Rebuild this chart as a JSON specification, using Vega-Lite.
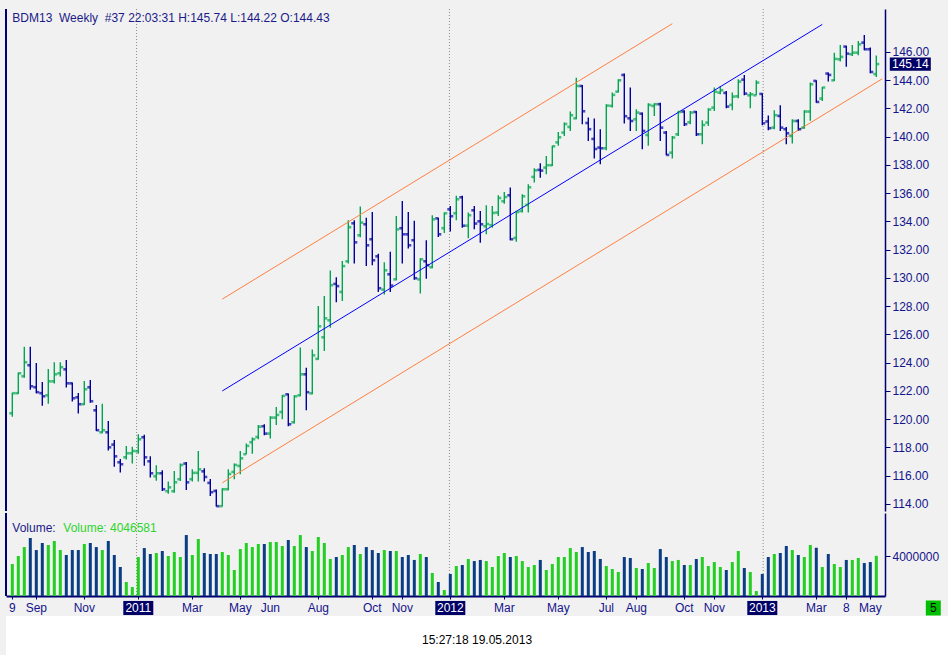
{
  "$schema": "https://vega.github.io/schema/vega-lite/v6.json",
  "background": "#f1f1f1",
  "padding": {"left": 5, "top": 8, "right": 0, "bottom": 0},
  "spacing": 0,
  "datasets": {
    "bars": [
      {"date": "2010-08-09", "o": 120.42, "h": 121.88, "l": 120.18, "c": 121.84, "v": 3220000},
      {"date": "2010-08-16", "o": 121.84, "h": 123.30, "l": 121.79, "c": 123.25, "v": 4030000},
      {"date": "2010-08-23", "o": 123.04, "h": 125.12, "l": 122.94, "c": 124.03, "v": 4930000},
      {"date": "2010-08-30", "o": 123.82, "h": 125.12, "l": 122.09, "c": 122.33, "v": 5840000},
      {"date": "2010-09-06", "o": 122.26, "h": 123.98, "l": 121.84, "c": 121.91, "v": 4630000},
      {"date": "2010-09-13", "o": 121.84, "h": 122.64, "l": 120.96, "c": 121.62, "v": 5340000},
      {"date": "2010-09-20", "o": 121.69, "h": 123.56, "l": 121.10, "c": 122.68, "v": 5140000},
      {"date": "2010-09-27", "o": 122.68, "h": 124.03, "l": 122.52, "c": 123.18, "v": 5540000},
      {"date": "2010-10-04", "o": 123.25, "h": 124.03, "l": 123.02, "c": 123.68, "v": 4630000},
      {"date": "2010-10-11", "o": 123.53, "h": 124.19, "l": 122.24, "c": 122.54, "v": 4130000},
      {"date": "2010-10-18", "o": 122.54, "h": 122.59, "l": 121.25, "c": 121.48, "v": 4630000},
      {"date": "2010-10-25", "o": 121.55, "h": 121.86, "l": 120.40, "c": 121.06, "v": 4630000},
      {"date": "2010-11-01", "o": 121.06, "h": 122.71, "l": 121.01, "c": 122.12, "v": 5240000},
      {"date": "2010-11-08", "o": 122.26, "h": 122.78, "l": 121.17, "c": 121.27, "v": 5340000},
      {"date": "2010-11-15", "o": 120.63, "h": 121.01, "l": 119.17, "c": 119.22, "v": 4930000},
      {"date": "2010-11-22", "o": 119.07, "h": 121.10, "l": 119.00, "c": 119.22, "v": 4630000},
      {"date": "2010-11-29", "o": 119.07, "h": 119.88, "l": 117.79, "c": 118.01, "v": 5540000},
      {"date": "2010-12-06", "o": 118.20, "h": 118.53, "l": 116.64, "c": 117.37, "v": 4130000},
      {"date": "2010-12-13", "o": 116.95, "h": 117.19, "l": 116.22, "c": 116.81, "v": 2920000},
      {"date": "2010-12-20", "o": 117.30, "h": 118.11, "l": 117.14, "c": 117.59, "v": 1410000},
      {"date": "2010-12-27", "o": 117.59, "h": 118.04, "l": 116.86, "c": 117.75, "v": 910000},
      {"date": "2011-01-03", "o": 117.73, "h": 118.93, "l": 117.56, "c": 118.58, "v": 3930000},
      {"date": "2011-01-10", "o": 118.72, "h": 118.89, "l": 116.71, "c": 117.30, "v": 4830000},
      {"date": "2011-01-17", "o": 117.02, "h": 117.37, "l": 115.87, "c": 116.17, "v": 4230000},
      {"date": "2011-01-24", "o": 115.96, "h": 116.74, "l": 115.65, "c": 116.17, "v": 4330000},
      {"date": "2011-01-31", "o": 116.17, "h": 116.38, "l": 114.92, "c": 115.04, "v": 4530000},
      {"date": "2011-02-07", "o": 114.90, "h": 115.58, "l": 114.73, "c": 115.18, "v": 4030000},
      {"date": "2011-02-14", "o": 114.90, "h": 116.34, "l": 114.80, "c": 115.53, "v": 4430000},
      {"date": "2011-02-21", "o": 115.75, "h": 116.86, "l": 115.63, "c": 116.76, "v": 3930000},
      {"date": "2011-02-28", "o": 116.86, "h": 116.97, "l": 114.99, "c": 115.53, "v": 6140000},
      {"date": "2011-03-07", "o": 115.75, "h": 116.45, "l": 115.58, "c": 116.20, "v": 4130000},
      {"date": "2011-03-14", "o": 116.20, "h": 117.75, "l": 115.58, "c": 116.45, "v": 5740000},
      {"date": "2011-03-21", "o": 116.31, "h": 116.53, "l": 115.58, "c": 115.91, "v": 4330000},
      {"date": "2011-03-28", "o": 115.49, "h": 115.77, "l": 114.57, "c": 114.83, "v": 4230000},
      {"date": "2011-04-04", "o": 114.92, "h": 115.02, "l": 113.81, "c": 113.84, "v": 4230000},
      {"date": "2011-04-11", "o": 113.84, "h": 115.11, "l": 113.81, "c": 115.04, "v": 4430000},
      {"date": "2011-04-18", "o": 115.04, "h": 116.45, "l": 114.97, "c": 116.12, "v": 4130000},
      {"date": "2011-04-25", "o": 116.27, "h": 116.86, "l": 115.75, "c": 116.76, "v": 2620000},
      {"date": "2011-05-02", "o": 116.69, "h": 117.75, "l": 116.10, "c": 117.23, "v": 4730000},
      {"date": "2011-05-09", "o": 117.52, "h": 118.27, "l": 117.52, "c": 118.11, "v": 5340000},
      {"date": "2011-05-16", "o": 118.37, "h": 118.70, "l": 117.56, "c": 118.58, "v": 4930000},
      {"date": "2011-05-23", "o": 118.74, "h": 119.59, "l": 118.58, "c": 119.47, "v": 5240000},
      {"date": "2011-05-30", "o": 119.50, "h": 119.64, "l": 118.86, "c": 118.98, "v": 5240000},
      {"date": "2011-06-06", "o": 118.98, "h": 120.21, "l": 118.63, "c": 120.11, "v": 5440000},
      {"date": "2011-06-13", "o": 120.11, "h": 120.87, "l": 119.59, "c": 120.30, "v": 5440000},
      {"date": "2011-06-20", "o": 120.51, "h": 121.72, "l": 120.00, "c": 121.65, "v": 5040000},
      {"date": "2011-06-27", "o": 121.76, "h": 121.81, "l": 119.50, "c": 119.64, "v": 5640000},
      {"date": "2011-07-04", "o": 119.78, "h": 121.69, "l": 119.69, "c": 121.62, "v": 5040000},
      {"date": "2011-07-11", "o": 121.69, "h": 125.07, "l": 121.62, "c": 123.18, "v": 6140000},
      {"date": "2011-07-18", "o": 123.18, "h": 123.65, "l": 120.63, "c": 121.91, "v": 4930000},
      {"date": "2011-07-25", "o": 121.83, "h": 124.93, "l": 121.76, "c": 124.52, "v": 4530000},
      {"date": "2011-08-01", "o": 124.27, "h": 128.02, "l": 124.20, "c": 126.58, "v": 5940000},
      {"date": "2011-08-08", "o": 125.80, "h": 128.72, "l": 124.83, "c": 127.14, "v": 5340000},
      {"date": "2011-08-15", "o": 127.00, "h": 130.52, "l": 126.48, "c": 129.49, "v": 3730000},
      {"date": "2011-08-22", "o": 129.58, "h": 130.05, "l": 128.28, "c": 129.42, "v": 3930000},
      {"date": "2011-08-29", "o": 129.01, "h": 131.20, "l": 128.37, "c": 130.84, "v": 4130000},
      {"date": "2011-09-05", "o": 131.18, "h": 134.08, "l": 131.02, "c": 133.59, "v": 4930000},
      {"date": "2011-09-12", "o": 133.87, "h": 134.08, "l": 131.02, "c": 132.52, "v": 5140000},
      {"date": "2011-09-19", "o": 133.02, "h": 135.05, "l": 132.88, "c": 133.92, "v": 4230000},
      {"date": "2011-09-26", "o": 133.80, "h": 134.27, "l": 130.85, "c": 132.31, "v": 4930000},
      {"date": "2011-10-03", "o": 132.74, "h": 134.67, "l": 130.90, "c": 131.25, "v": 4630000},
      {"date": "2011-10-10", "o": 131.53, "h": 131.72, "l": 129.01, "c": 129.27, "v": 4330000},
      {"date": "2011-10-17", "o": 129.17, "h": 131.11, "l": 128.82, "c": 130.54, "v": 4630000},
      {"date": "2011-10-24", "o": 130.26, "h": 131.86, "l": 129.01, "c": 129.46, "v": 4530000},
      {"date": "2011-10-31", "o": 129.90, "h": 134.39, "l": 129.83, "c": 133.44, "v": 4530000},
      {"date": "2011-11-07", "o": 133.52, "h": 135.45, "l": 131.02, "c": 133.09, "v": 3930000},
      {"date": "2011-11-14", "o": 133.09, "h": 134.67, "l": 132.08, "c": 132.31, "v": 4130000},
      {"date": "2011-11-21", "o": 132.67, "h": 134.04, "l": 129.88, "c": 129.98, "v": 3630000},
      {"date": "2011-11-28", "o": 129.90, "h": 131.39, "l": 128.89, "c": 131.32, "v": 4230000},
      {"date": "2011-12-05", "o": 131.18, "h": 132.67, "l": 129.95, "c": 130.90, "v": 3930000},
      {"date": "2011-12-12", "o": 130.76, "h": 134.44, "l": 130.68, "c": 134.15, "v": 2320000},
      {"date": "2011-12-19", "o": 134.22, "h": 134.27, "l": 132.90, "c": 133.09, "v": 1410000},
      {"date": "2011-12-26", "o": 133.52, "h": 134.63, "l": 133.19, "c": 134.58, "v": 600000},
      {"date": "2012-01-02", "o": 134.86, "h": 135.10, "l": 133.28, "c": 134.37, "v": 2220000},
      {"date": "2012-01-09", "o": 134.58, "h": 135.81, "l": 134.08, "c": 135.57, "v": 3020000},
      {"date": "2012-01-16", "o": 135.71, "h": 135.81, "l": 133.56, "c": 133.70, "v": 3120000},
      {"date": "2012-01-23", "o": 133.70, "h": 134.63, "l": 132.81, "c": 134.44, "v": 3730000},
      {"date": "2012-01-30", "o": 134.79, "h": 135.10, "l": 133.45, "c": 133.85, "v": 3520000},
      {"date": "2012-02-06", "o": 134.01, "h": 134.74, "l": 132.50, "c": 133.80, "v": 3630000},
      {"date": "2012-02-13", "o": 133.66, "h": 135.15, "l": 133.09, "c": 133.82, "v": 3520000},
      {"date": "2012-02-20", "o": 133.73, "h": 135.10, "l": 133.56, "c": 134.60, "v": 2920000},
      {"date": "2012-02-27", "o": 134.63, "h": 135.85, "l": 134.39, "c": 135.66, "v": 4030000},
      {"date": "2012-03-05", "o": 135.43, "h": 136.09, "l": 135.26, "c": 135.73, "v": 4330000},
      {"date": "2012-03-12", "o": 135.85, "h": 136.40, "l": 132.67, "c": 132.74, "v": 3930000},
      {"date": "2012-03-19", "o": 132.83, "h": 134.74, "l": 132.57, "c": 134.67, "v": 4030000},
      {"date": "2012-03-26", "o": 134.74, "h": 135.92, "l": 134.63, "c": 135.78, "v": 3520000},
      {"date": "2012-04-02", "o": 135.17, "h": 136.63, "l": 134.63, "c": 136.42, "v": 2920000},
      {"date": "2012-04-09", "o": 137.15, "h": 137.76, "l": 136.75, "c": 137.62, "v": 3120000},
      {"date": "2012-04-16", "o": 137.65, "h": 138.12, "l": 137.10, "c": 137.60, "v": 3630000},
      {"date": "2012-04-23", "o": 137.81, "h": 138.64, "l": 137.34, "c": 137.98, "v": 2620000},
      {"date": "2012-04-30", "o": 137.98, "h": 139.35, "l": 137.93, "c": 139.32, "v": 3220000},
      {"date": "2012-05-07", "o": 139.60, "h": 140.34, "l": 139.35, "c": 139.96, "v": 3930000},
      {"date": "2012-05-14", "o": 140.29, "h": 141.00, "l": 140.05, "c": 140.90, "v": 3930000},
      {"date": "2012-05-21", "o": 140.69, "h": 141.78, "l": 140.41, "c": 141.52, "v": 4830000},
      {"date": "2012-05-28", "o": 141.30, "h": 144.18, "l": 141.23, "c": 143.59, "v": 4430000},
      {"date": "2012-06-04", "o": 143.59, "h": 143.66, "l": 140.88, "c": 141.80, "v": 4930000},
      {"date": "2012-06-11", "o": 140.97, "h": 141.35, "l": 139.70, "c": 140.53, "v": 4430000},
      {"date": "2012-06-18", "o": 139.84, "h": 141.28, "l": 138.45, "c": 139.13, "v": 4530000},
      {"date": "2012-06-25", "o": 139.23, "h": 140.53, "l": 138.05, "c": 139.18, "v": 3730000},
      {"date": "2012-07-02", "o": 139.18, "h": 142.30, "l": 139.04, "c": 142.20, "v": 3020000},
      {"date": "2012-07-09", "o": 142.18, "h": 143.12, "l": 142.06, "c": 142.96, "v": 2720000},
      {"date": "2012-07-16", "o": 143.19, "h": 144.07, "l": 143.12, "c": 143.99, "v": 2420000},
      {"date": "2012-07-23", "o": 144.37, "h": 144.47, "l": 140.93, "c": 141.45, "v": 3930000},
      {"date": "2012-07-30", "o": 141.30, "h": 143.48, "l": 140.41, "c": 141.11, "v": 3830000},
      {"date": "2012-08-06", "o": 141.23, "h": 141.94, "l": 140.41, "c": 141.71, "v": 2820000},
      {"date": "2012-08-13", "o": 141.63, "h": 141.71, "l": 139.11, "c": 140.41, "v": 2720000},
      {"date": "2012-08-20", "o": 140.12, "h": 142.36, "l": 139.35, "c": 142.25, "v": 3320000},
      {"date": "2012-08-27", "o": 142.18, "h": 142.36, "l": 141.47, "c": 142.30, "v": 2820000},
      {"date": "2012-09-03", "o": 142.30, "h": 142.41, "l": 139.70, "c": 140.64, "v": 4730000},
      {"date": "2012-09-10", "o": 140.29, "h": 140.41, "l": 138.68, "c": 138.71, "v": 3930000},
      {"date": "2012-09-17", "o": 138.87, "h": 140.05, "l": 138.45, "c": 139.94, "v": 3520000},
      {"date": "2012-09-24", "o": 140.17, "h": 141.82, "l": 140.05, "c": 141.75, "v": 3630000},
      {"date": "2012-10-01", "o": 141.78, "h": 141.87, "l": 140.76, "c": 140.88, "v": 3120000},
      {"date": "2012-10-08", "o": 141.02, "h": 141.82, "l": 140.88, "c": 141.71, "v": 3120000},
      {"date": "2012-10-15", "o": 141.75, "h": 141.82, "l": 140.05, "c": 140.17, "v": 3730000},
      {"date": "2012-10-22", "o": 140.17, "h": 141.16, "l": 139.46, "c": 140.83, "v": 3930000},
      {"date": "2012-10-29", "o": 141.00, "h": 142.01, "l": 140.76, "c": 141.92, "v": 3020000},
      {"date": "2012-11-05", "o": 142.06, "h": 143.48, "l": 141.82, "c": 143.19, "v": 3420000},
      {"date": "2012-11-12", "o": 143.12, "h": 143.59, "l": 143.00, "c": 143.29, "v": 2920000},
      {"date": "2012-11-19", "o": 143.10, "h": 143.24, "l": 142.01, "c": 142.13, "v": 2620000},
      {"date": "2012-11-26", "o": 142.25, "h": 143.12, "l": 141.87, "c": 142.84, "v": 3420000},
      {"date": "2012-12-03", "o": 142.86, "h": 144.07, "l": 142.72, "c": 143.90, "v": 4530000},
      {"date": "2012-12-10", "o": 144.04, "h": 144.37, "l": 142.93, "c": 143.05, "v": 2820000},
      {"date": "2012-12-17", "o": 142.93, "h": 143.17, "l": 142.01, "c": 143.00, "v": 2420000},
      {"date": "2012-12-24", "o": 142.93, "h": 143.99, "l": 142.93, "c": 143.83, "v": 500000},
      {"date": "2012-12-31", "o": 143.03, "h": 143.07, "l": 140.81, "c": 140.95, "v": 2220000},
      {"date": "2013-01-07", "o": 141.08, "h": 141.50, "l": 140.45, "c": 140.60, "v": 3930000},
      {"date": "2013-01-14", "o": 140.64, "h": 141.87, "l": 140.53, "c": 141.52, "v": 4230000},
      {"date": "2013-01-21", "o": 141.47, "h": 142.23, "l": 140.41, "c": 140.64, "v": 4330000},
      {"date": "2013-01-28", "o": 140.53, "h": 140.69, "l": 139.46, "c": 140.24, "v": 5040000},
      {"date": "2013-02-04", "o": 140.05, "h": 141.23, "l": 139.51, "c": 141.11, "v": 4630000},
      {"date": "2013-02-11", "o": 141.11, "h": 141.23, "l": 140.41, "c": 140.53, "v": 4130000},
      {"date": "2013-02-18", "o": 140.64, "h": 141.87, "l": 140.57, "c": 141.78, "v": 3930000},
      {"date": "2013-02-25", "o": 141.78, "h": 143.83, "l": 141.12, "c": 143.71, "v": 5140000},
      {"date": "2013-03-04", "o": 143.95, "h": 143.99, "l": 142.41, "c": 142.46, "v": 4860000},
      {"date": "2013-03-11", "o": 142.70, "h": 143.52, "l": 142.53, "c": 143.48, "v": 2920000},
      {"date": "2013-03-18", "o": 144.47, "h": 144.54, "l": 143.90, "c": 144.37, "v": 4230000},
      {"date": "2013-03-25", "o": 143.99, "h": 145.95, "l": 143.95, "c": 145.51, "v": 3220000},
      {"date": "2013-04-01", "o": 145.48, "h": 146.50, "l": 145.32, "c": 145.65, "v": 2920000},
      {"date": "2013-04-08", "o": 146.38, "h": 146.43, "l": 144.96, "c": 145.88, "v": 3630000},
      {"date": "2013-04-15", "o": 145.84, "h": 146.50, "l": 145.72, "c": 145.95, "v": 3630000},
      {"date": "2013-04-22", "o": 145.95, "h": 146.78, "l": 145.76, "c": 146.54, "v": 3830000},
      {"date": "2013-04-29", "o": 146.66, "h": 147.20, "l": 146.12, "c": 146.19, "v": 3320000},
      {"date": "2013-05-06", "o": 146.19, "h": 146.31, "l": 144.49, "c": 144.58, "v": 3420000},
      {"date": "2013-05-13", "o": 144.43, "h": 145.74, "l": 144.22, "c": 145.14, "v": 4046581}
    ],
    "channel": [
      {"line": "upper", "date": "2011-04-11", "price": 128.5},
      {"line": "upper", "date": "2012-09-17", "price": 148.0},
      {"line": "mid", "date": "2011-04-11", "price": 122.0},
      {"line": "mid", "date": "2013-03-11", "price": 147.95},
      {"line": "lower", "date": "2011-04-11", "price": 115.5},
      {"line": "lower", "date": "2013-05-20", "price": 144.1}
    ],
    "years": [
      {"date": "2011-01-01"},
      {"date": "2012-01-01"},
      {"date": "2013-01-01"}
    ],
    "ticks": [
      {"date": "2010-08-09", "label": "9", "kind": "month"},
      {"date": "2010-09-06", "label": "Sep", "kind": "month"},
      {"date": "2010-11-01", "label": "Nov", "kind": "month"},
      {"date": "2011-01-03", "label": "2011", "kind": "year"},
      {"date": "2011-03-07", "label": "Mar", "kind": "month"},
      {"date": "2011-05-02", "label": "May", "kind": "month"},
      {"date": "2011-06-06", "label": "Jun", "kind": "month"},
      {"date": "2011-08-01", "label": "Aug", "kind": "month"},
      {"date": "2011-10-03", "label": "Oct", "kind": "month"},
      {"date": "2011-11-07", "label": "Nov", "kind": "month"},
      {"date": "2012-01-02", "label": "2012", "kind": "year"},
      {"date": "2012-03-05", "label": "Mar", "kind": "month"},
      {"date": "2012-05-07", "label": "May", "kind": "month"},
      {"date": "2012-07-02", "label": "Jul", "kind": "month"},
      {"date": "2012-08-06", "label": "Aug", "kind": "month"},
      {"date": "2012-10-01", "label": "Oct", "kind": "month"},
      {"date": "2012-11-05", "label": "Nov", "kind": "month"},
      {"date": "2012-12-31", "label": "2013", "kind": "year"},
      {"date": "2013-03-04", "label": "Mar", "kind": "month"},
      {"date": "2013-04-08", "label": "8", "kind": "month"},
      {"date": "2013-05-06", "label": "May", "kind": "month"}
    ]
  },
  "vconcat": [
    {
      "width": 879,
      "height": 502,
      "encoding": {
        "x": {
          "field": "date",
          "type": "temporal",
          "title": null,
          "axis": null,
          "scale": {
            "type": "utc",
            "nice": false,
            "padding": 0,
            "domain": [
              {"year": 2010, "month": 8, "date": 1, "hours": 15, "minutes": 36, "utc": true},
              {"year": 2013, "month": 5, "date": 23, "hours": 3, "minutes": 36, "utc": true}
            ]
          }
        }
      },
      "layer": [
        {
          "data": {"name": "years"},
          "mark": {"type": "rule", "color": "#8a8a8a", "strokeDash": [1, 2], "strokeWidth": 1},
          "encoding": {}
        },
        {
          "data": {"name": "years"},
          "mark": {"type": "rule", "color": "#000070", "strokeWidth": 2},
          "encoding": {
            "x": {"datum": {"year": 2010, "month": 8, "date": 1, "hours": 15, "minutes": 36, "utc": true}, "type": "temporal"}
          }
        },
        {
          "data": {"name": "bars"},
          "mark": {"type": "rule", "strokeWidth": 1.4},
          "encoding": {
            "y": {
              "field": "l",
              "type": "quantitative",
              "title": null,
              "scale": {"domain": [113.5, 149.04], "nice": false, "zero": false, "padding": 0},
              "axis": {
                "orient": "right",
                "values": [114, 116, 118, 120, 122, 124, 126, 128, 130, 132, 134, 136, 138, 140, 142, 144, 146],
                "tickCount": 40,
                "format": ".2f",
                "labelOverlap": false,
                "tickSize": 5,
                "labelPadding": 2,
                "domainWidth": 1.5
              }
            },
            "y2": {"field": "h"},
            "color": {"condition": {"test": "datum.c >= datum.o", "value": "#00a650"}, "value": "#0000a0"}
          }
        },
        {
          "data": {"name": "channel"},
          "mark": {"type": "line", "strokeWidth": 1},
          "encoding": {
            "y": {"field": "price", "type": "quantitative", "title": null},
            "color": {
              "field": "line",
              "type": "nominal",
              "legend": null,
              "scale": {"domain": ["upper", "mid", "lower"], "range": ["#ff8040", "#0000ff", "#ff8040"]}
            }
          }
        },
        {
          "data": {"name": "bars"},
          "mark": {"type": "tick", "orient": "horizontal", "size": 3, "thickness": 2.6, "xOffset": -1.5},
          "encoding": {
            "y": {"field": "o", "type": "quantitative", "title": null},
            "color": {"condition": {"test": "datum.c >= datum.o", "value": "#00a650"}, "value": "#0000a0"}
          }
        },
        {
          "data": {"name": "bars"},
          "mark": {"type": "tick", "orient": "horizontal", "size": 3, "thickness": 2.6, "xOffset": 1.5},
          "encoding": {
            "y": {"field": "c", "type": "quantitative", "title": null},
            "color": {"condition": {"test": "datum.c >= datum.o", "value": "#00a650"}, "value": "#0000a0"}
          }
        },
        {
          "data": {"values": [{"date": "2010-08-09", "caption": "BDM13\u00a0 Weekly\u00a0 #37 22:03:31 H:145.74 L:144.22 O:144.43"}]},
          "mark": {"type": "text", "align": "left", "baseline": "middle", "fontSize": 12, "color": "#1a1a88"},
          "encoding": {
            "y": {"datum": 148.4},
            "text": {"field": "caption"}
          }
        },
        {
          "data": {"name": "bars"},
          "transform": [{"filter": "utcFormat(toDate(datum.date), '%Y-%m-%d') == '2013-05-13'"}],
          "mark": {"type": "point", "shape": "M-1,-0.32H1V0.32H-1Z", "filled": true, "opacity": 1, "size": 1681, "xOffset": 34, "color": "#000066"},
          "encoding": {
            "y": {"field": "c", "type": "quantitative", "title": null}
          }
        },
        {
          "data": {"name": "bars"},
          "transform": [{"filter": "utcFormat(toDate(datum.date), '%Y-%m-%d') == '2013-05-13'"}],
          "mark": {"type": "text", "align": "center", "baseline": "middle", "fontSize": 12, "color": "white", "xOffset": 34},
          "encoding": {
            "y": {"field": "c", "type": "quantitative", "title": null},
            "text": {"field": "c", "type": "quantitative", "format": ".2f"}
          }
        }
      ]
    },
    {
      "width": 879,
      "height": 83,
      "encoding": {
        "x": {
          "field": "date",
          "type": "temporal",
          "title": null,
          "scale": {
            "type": "utc",
            "nice": false,
            "padding": 0,
            "domain": [
              {"year": 2010, "month": 8, "date": 1, "hours": 15, "minutes": 36, "utc": true},
              {"year": 2013, "month": 5, "date": 23, "hours": 3, "minutes": 36, "utc": true}
            ]
          },
          "axis": {
            "labels": false,
            "tickSize": 3,
            "tickCount": 40,
            "domainWidth": 2,
            "values": [
              {"year": 2010, "month": 8, "date": 9, "utc": true},
              {"year": 2010, "month": 9, "date": 6, "utc": true},
              {"year": 2010, "month": 11, "date": 1, "utc": true},
              {"year": 2011, "month": 1, "date": 3, "utc": true},
              {"year": 2011, "month": 3, "date": 7, "utc": true},
              {"year": 2011, "month": 5, "date": 2, "utc": true},
              {"year": 2011, "month": 6, "date": 6, "utc": true},
              {"year": 2011, "month": 8, "date": 1, "utc": true},
              {"year": 2011, "month": 10, "date": 3, "utc": true},
              {"year": 2011, "month": 11, "date": 7, "utc": true},
              {"year": 2012, "month": 1, "date": 2, "utc": true},
              {"year": 2012, "month": 3, "date": 5, "utc": true},
              {"year": 2012, "month": 5, "date": 7, "utc": true},
              {"year": 2012, "month": 7, "date": 2, "utc": true},
              {"year": 2012, "month": 8, "date": 6, "utc": true},
              {"year": 2012, "month": 10, "date": 1, "utc": true},
              {"year": 2012, "month": 11, "date": 5, "utc": true},
              {"year": 2012, "month": 12, "date": 31, "utc": true},
              {"year": 2013, "month": 3, "date": 4, "utc": true},
              {"year": 2013, "month": 4, "date": 8, "utc": true},
              {"year": 2013, "month": 5, "date": 6, "utc": true}
            ]
          }
        }
      },
      "layer": [
        {
          "data": {"name": "years"},
          "mark": {"type": "rule", "color": "#8a8a8a", "strokeDash": [1, 2], "strokeWidth": 1},
          "encoding": {}
        },
        {
          "data": {"name": "years"},
          "mark": {"type": "rule", "color": "#000070", "strokeWidth": 2},
          "encoding": {
            "x": {"datum": {"year": 2010, "month": 8, "date": 1, "hours": 15, "minutes": 36, "utc": true}, "type": "temporal"}
          }
        },
        {
          "data": {"name": "bars"},
          "mark": {"type": "bar", "width": 3},
          "encoding": {
            "y": {
              "field": "v",
              "type": "quantitative",
              "title": null,
              "scale": {"domain": [0, 8360000], "nice": false, "padding": 0},
              "axis": {"orient": "right", "values": [4000000], "format": "d", "tickSize": 5, "labelPadding": 2, "domainWidth": 1.5}
            },
            "color": {"condition": {"test": "datum.c >= datum.o", "value": "#22cf22"}, "value": "#0a3d84"}
          }
        },
        {
          "data": {"values": [{"date": "2010-08-09", "name": "Volume:", "reading": "Volume: 4046581"}]},
          "layer": [
            {
              "mark": {"type": "text", "align": "left", "baseline": "middle", "fontSize": 12, "color": "#1a1a88"},
              "encoding": {"y": {"datum": 6850000}, "text": {"field": "name"}}
            },
            {
              "mark": {"type": "text", "align": "left", "baseline": "middle", "fontSize": 12, "color": "#2ed42e", "dx": 51},
              "encoding": {"y": {"datum": 6850000}, "text": {"field": "reading"}}
            }
          ]
        },
        {
          "data": {"name": "ticks"},
          "transform": [{"filter": "datum.kind == 'year'"}],
          "mark": {"type": "point", "shape": "M-1,-0.47H1V0.47H-1Z", "filled": true, "opacity": 1, "size": 900, "yOffset": 12, "color": "#000066"},
          "encoding": {"y": {"datum": 0}}
        },
        {
          "data": {"name": "ticks"},
          "mark": {"type": "text", "align": "center", "baseline": "middle", "fontSize": 12, "yOffset": 12},
          "encoding": {
            "y": {"datum": 0},
            "text": {"field": "label"},
            "color": {"condition": {"test": "datum.kind == 'year'", "value": "white"}, "value": "#14148c"}
          }
        },
        {
          "data": {"name": "bars"},
          "transform": [{"filter": "utcFormat(toDate(datum.date), '%Y-%m-%d') == '2013-05-13'"}],
          "layer": [
            {
              "mark": {"type": "point", "shape": "square", "filled": true, "opacity": 1, "size": 225, "xOffset": 57, "yOffset": 12, "color": "#00c000"},
              "encoding": {"y": {"datum": 0}}
            },
            {
              "mark": {"type": "text", "text": "5", "align": "center", "baseline": "middle", "fontSize": 12, "color": "black", "xOffset": 57, "yOffset": 12},
              "encoding": {"y": {"datum": 0}}
            }
          ]
        }
      ]
    },
    {
      "width": 942,
      "height": 42,
      "view": {"fill": "white", "stroke": null},
      "data": {"values": [{"stamp": "15:27:18 19.05.2013"}]},
      "mark": {"type": "text", "fontSize": 12, "color": "black", "dy": 3},
      "encoding": {"text": {"field": "stamp"}}
    }
  ],
  "resolve": {"scale": {"x": "independent", "y": "independent"}},
  "config": {
    "font": "Liberation Sans",
    "view": {"stroke": null},
    "axis": {
      "grid": false,
      "labelFont": "Liberation Sans",
      "labelFontSize": 12,
      "labelColor": "#14148c",
      "domainColor": "#000070",
      "tickColor": "#000070"
    }
  }
}
